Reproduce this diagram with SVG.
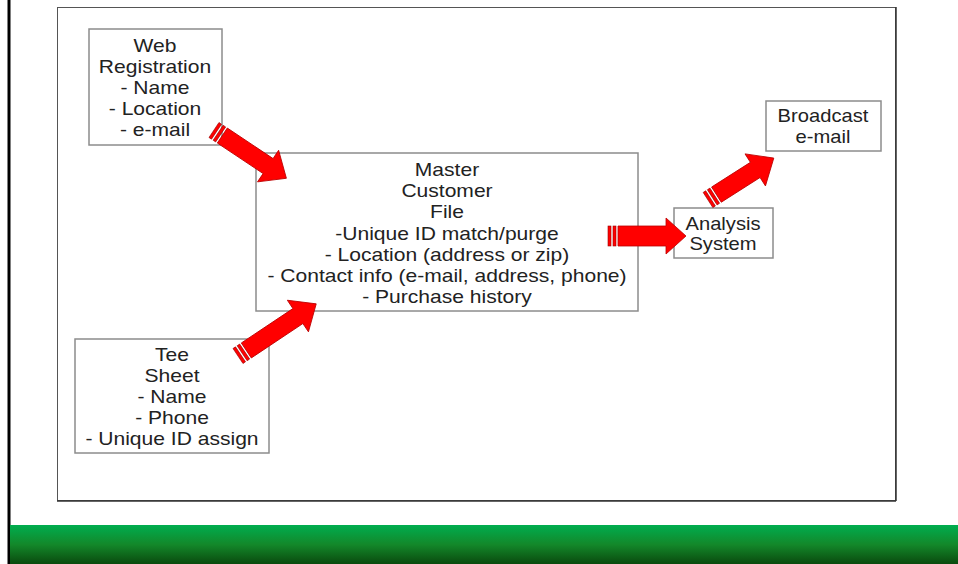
<svg xmlns="http://www.w3.org/2000/svg" width="958" height="564" viewBox="0 0 958 564">
<defs>
<linearGradient id="band" x1="0" y1="0" x2="0" y2="1">
<stop offset="0" stop-color="#00ad4f"/>
<stop offset="0.5" stop-color="#13882a"/>
<stop offset="1" stop-color="#0a4a0e"/>
</linearGradient>
<style>
.box{fill:#fff;stroke:#8c8c8c;stroke-width:1.5}
.t{font-family:"Liberation Sans",Arial,sans-serif;font-size:18px;fill:#222;text-anchor:middle}
.arr{fill:#f00;stroke:#b00;stroke-width:0.8}
.stripe{fill:#f00;stroke:#900;stroke-width:0.6}
</style>
</defs>
<rect x="0" y="0" width="958" height="564" fill="#fff"/>
<rect x="7.5" y="0" width="3" height="564" fill="#000"/>
<rect x="57.5" y="7.5" width="838" height="493" fill="#fff" stroke="#555" stroke-width="1"/>
<line x1="896" y1="7" x2="896" y2="501" stroke="#333" stroke-width="1.5"/>
<line x1="57" y1="501" x2="896" y2="501" stroke="#333" stroke-width="1.5"/>
<rect x="10" y="525" width="948" height="39" fill="url(#band)"/>

<g id="web-registration">
<rect class="box" x="89" y="29" width="133" height="116"/>
<g transform="translate(155,0) scale(1.17,1)">
<text class="t" x="0" y="52">Web</text>
<text class="t" x="0" y="73">Registration</text>
<text class="t" x="0" y="94">- Name</text>
<text class="t" x="0" y="115">- Location</text>
<text class="t" x="0" y="136">- e-mail</text>
</g>
</g>

<g id="master-customer-file">
<rect class="box" x="256" y="153" width="382" height="158"/>
<g transform="translate(447,0) scale(1.17,1)">
<text class="t" x="0" y="176">Master</text>
<text class="t" x="0" y="197">Customer</text>
<text class="t" x="0" y="218">File</text>
<text class="t" x="0" y="240">-Unique ID match/purge</text>
<text class="t" x="0" y="261">- Location (address or zip)</text>
<text class="t" x="0" y="282">- Contact info (e-mail, address, phone)</text>
<text class="t" x="0" y="303">- Purchase history</text>
</g>
</g>

<g id="tee-sheet">
<rect class="box" x="75" y="339" width="194" height="114"/>
<g transform="translate(172,0) scale(1.17,1)">
<text class="t" x="0" y="361">Tee</text>
<text class="t" x="0" y="382">Sheet</text>
<text class="t" x="0" y="403">- Name</text>
<text class="t" x="0" y="424">- Phone</text>
<text class="t" x="0" y="445">- Unique ID assign</text>
</g>
</g>

<g id="analysis-system">
<rect class="box" x="674" y="208" width="99" height="50"/>
<g transform="translate(723,0) scale(1.12,1)">
<text class="t" x="0" y="230">Analysis</text>
<text class="t" x="0" y="250">System</text>
</g>
</g>

<g id="broadcast-email">
<rect class="box" x="766" y="101" width="115" height="50"/>
<g transform="translate(823,0) scale(1.12,1)">
<text class="t" x="0" y="122">Broadcast</text>
<text class="t" x="0" y="143">e-mail</text>
</g>
</g>

<g id="connectors">
<g transform="translate(214,130) rotate(33.7)">
<rect class="stripe" x="0" y="-9" width="3" height="18"/>
<rect class="stripe" x="5" y="-9" width="3" height="18"/>
<path class="arr" d="M10,-9 H65 V-19 L87,0 L65,19 V9 H10 Z"/>
</g>
<g transform="translate(238,356) rotate(-33.7)">
<rect class="stripe" x="0" y="-9" width="3" height="18"/>
<rect class="stripe" x="5" y="-9" width="3" height="18"/>
<path class="arr" d="M10,-9 H72 V-19 L94,0 L72,19 V9 H10 Z"/>
</g>
<g transform="translate(608,236)">
<rect class="stripe" x="0" y="-10" width="3" height="20"/>
<rect class="stripe" x="5" y="-10" width="3" height="20"/>
<path class="arr" d="M10,-10 H58 V-18 L78,0 L58,18 V10 H10 Z"/>
</g>
<g transform="translate(708,200) rotate(-32.5)">
<rect class="stripe" x="0" y="-9" width="3" height="18"/>
<rect class="stripe" x="5" y="-9" width="3" height="18"/>
<path class="arr" d="M10,-9 H56 V-19 L78,0 L56,19 V9 H10 Z"/>
</g>
</g>
</svg>
